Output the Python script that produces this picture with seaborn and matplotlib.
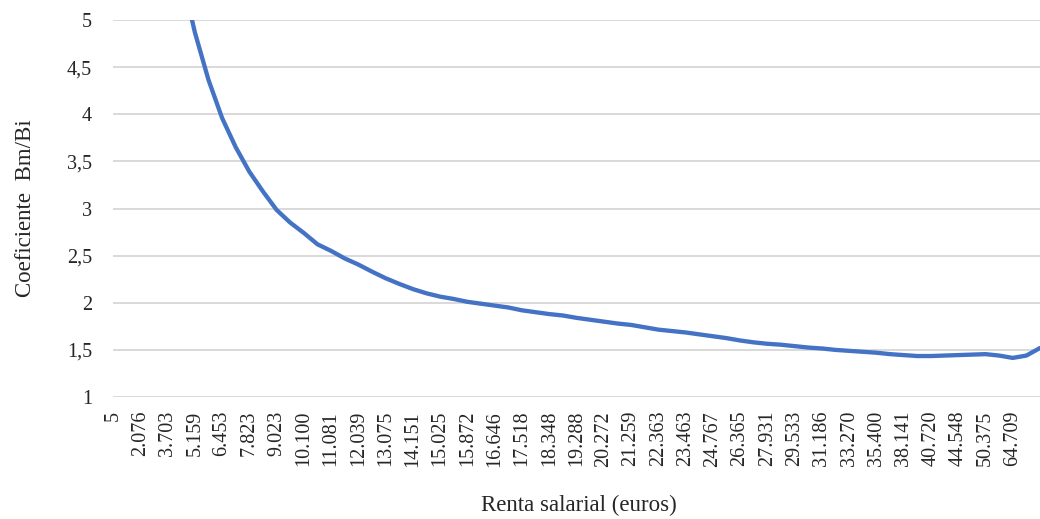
import numpy as np
import pandas as pd
import matplotlib
matplotlib.use("Agg")
import matplotlib.pyplot as plt
import seaborn as sns

# category labels shown on the x axis (every 2nd sample of the curve)
renta_labels = ['5', '2.076', '3.703', '5.159', '6.453', '7.823', '9.023', '10.100',
                '11.081', '12.039', '13.075', '14.151', '15.025', '15.872', '16.646',
                '17.518', '18.348', '19.288', '20.272', '21.259', '22.363', '23.463',
                '24.767', '26.365', '27.931', '29.533', '31.186', '33.270', '35.400',
                '38.141', '40.720', '44.548', '50.375', '64.709']

# coefficient Bm/Bi at half-label steps (+ the last sample)
coef = [40, 20, 12, 8.5, 6.8, 5.5, 4.87, 4.365, 3.96, 3.65,
        3.39, 3.18, 2.985, 2.85, 2.74, 2.62, 2.55, 2.47, 2.405, 2.33,
        2.26, 2.20, 2.145, 2.10, 2.065, 2.04, 2.01, 1.99, 1.97, 1.95,
        1.92, 1.90, 1.88, 1.865, 1.84, 1.82, 1.80, 1.78, 1.765, 1.74,
        1.715, 1.70, 1.685, 1.665, 1.645, 1.625, 1.60, 1.58, 1.565, 1.555,
        1.54, 1.525, 1.515, 1.50, 1.49, 1.48, 1.47, 1.455, 1.445, 1.435,
        1.435, 1.44, 1.445, 1.45, 1.455, 1.44, 1.415, 1.44, 1.52]

y_ticks = [1, 1.5, 2, 2.5, 3, 3.5, 4, 4.5, 5]
y_labels = ['1', '1,5', '2', '2,5', '3', '3,5', '4', '4,5', '5']

pos = np.r_[np.arange(len(coef) - 1) * 0.5, (len(coef) - 1.5) * 0.5 + 0.25]
df = pd.DataFrame({'pos': pos, 'coef': coef})

sns.set_theme(style="whitegrid")
plt.rcParams['font.family'] = ['Liberation Serif', 'DejaVu Serif']

fig, ax = plt.subplots(figsize=(10.4, 5.19), dpi=100)
fig.subplots_adjust(left=0.1087, right=1.0, top=0.9615, bottom=0.235)

sns.lineplot(data=df, x='pos', y='coef', color='#4472C4', linewidth=3.1, ax=ax)

ax.set_ylim(1, 5)
ax.set_xlim(0, pos[-1])
ax.set_yticks(y_ticks)
ax.set_yticklabels(y_labels, fontsize=14.5, color='#262626')
ax.set_xticks(np.arange(len(renta_labels)))
ax.set_xticklabels(renta_labels, rotation=90, fontsize=14.5, color='#262626')
ax.tick_params(axis='x', pad=10, length=0)
ax.tick_params(axis='y', pad=15, length=0)

ax.grid(False, axis='x')
ax.grid(True, axis='y', color='#d9d9d9', linewidth=1.4)
for s in ax.spines.values():
    s.set_visible(False)
ax.set_facecolor('white')

ax.set_xlabel('')
ax.set_ylabel('Coeficiente  Bm/Bi', fontsize=16.5, color='#262626')
ax.yaxis.set_label_coords(-0.083, 0.5)
fig.text(579 / 1040, 1 - 505 / 519, 'Renta salarial (euros)', ha='center', va='center',
         fontsize=16.5, color='#262626')

plt.savefig('out.png', dpi=100, facecolor='white')
